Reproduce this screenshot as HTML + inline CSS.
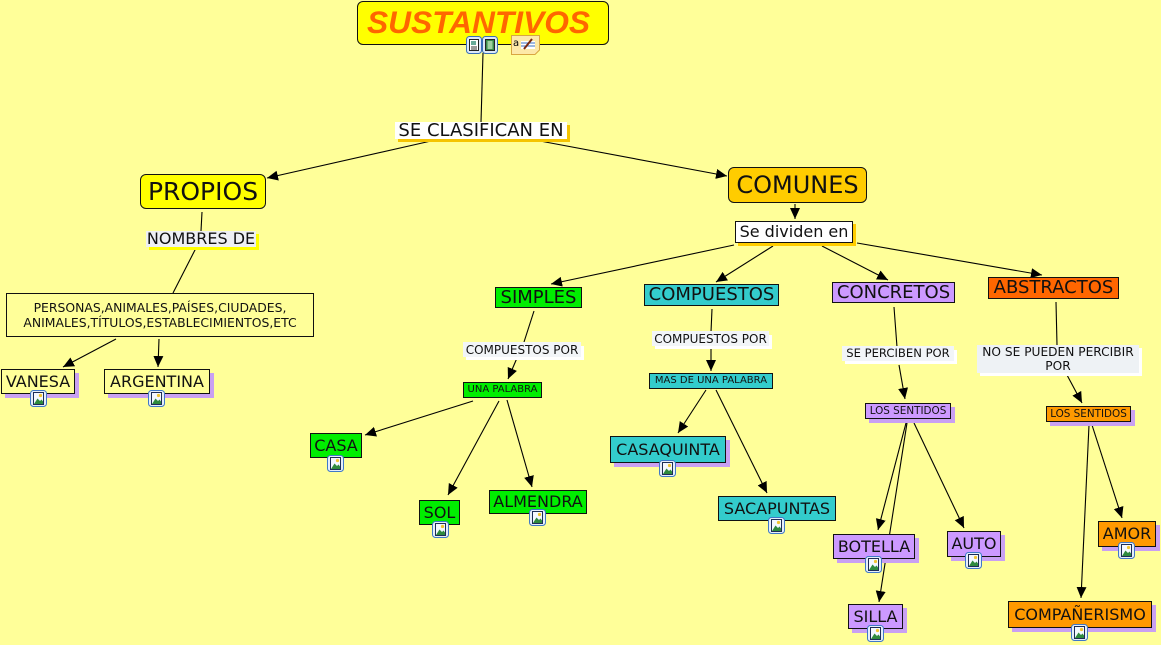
<!DOCTYPE html>
<html><head><meta charset="utf-8">
<style>
html,body{margin:0;padding:0;}
body{width:1161px;height:645px;background:#ffff99;position:relative;overflow:hidden;font-family:"DejaVu Sans","Liberation Sans",sans-serif;}
.n{position:absolute;box-sizing:border-box;border:1px solid #111;display:flex;align-items:center;justify-content:center;white-space:nowrap;line-height:1;color:#111;z-index:2;}
.l{position:absolute;box-sizing:border-box;display:flex;align-items:center;justify-content:center;white-space:nowrap;line-height:1;color:#111;z-index:2;text-align:center;}
.sh{box-shadow:4px 4px 0 #c9a0f2;}
.ic{position:absolute;width:17px;height:17px;z-index:3;}
svg.lines{position:absolute;left:0;top:0;z-index:1;}
</style></head><body>

<svg class="lines" width="1161" height="645" viewBox="0 0 1161 645">
<defs>
<marker id="a" markerUnits="userSpaceOnUse" markerWidth="12" markerHeight="11" refX="11" refY="5" orient="auto">
<path d="M0,0 L11,5 L0,10 z" fill="#000"/>
</marker>
</defs>
<g stroke="#000" stroke-width="1.1" fill="none">
<line x1="483" y1="53" x2="481" y2="122"/>
<line x1="431" y1="141" x2="267" y2="178" marker-end="url(#a)"/>
<line x1="540" y1="141" x2="727" y2="176" marker-end="url(#a)"/>
<line x1="202" y1="212" x2="201" y2="231"/>
<line x1="196" y1="248" x2="173" y2="293"/>
<line x1="116" y1="339" x2="63" y2="367" marker-end="url(#a)"/>
<line x1="159" y1="339" x2="158" y2="367" marker-end="url(#a)"/>
<line x1="795" y1="204" x2="795" y2="219" marker-end="url(#a)"/>
<line x1="734" y1="245" x2="551" y2="284" marker-end="url(#a)"/>
<line x1="773" y1="246" x2="716" y2="282" marker-end="url(#a)"/>
<line x1="822" y1="246" x2="888" y2="280" marker-end="url(#a)"/>
<line x1="857" y1="243" x2="1042" y2="275" marker-end="url(#a)"/>
<line x1="534" y1="311" x2="524" y2="342"/>
<line x1="517" y1="358" x2="508" y2="379" marker-end="url(#a)"/>
<line x1="473" y1="401" x2="365" y2="435" marker-end="url(#a)"/>
<line x1="499" y1="401" x2="448" y2="495" marker-end="url(#a)"/>
<line x1="507" y1="400" x2="532" y2="487" marker-end="url(#a)"/>
<line x1="712" y1="309" x2="711" y2="332"/>
<line x1="711" y1="348" x2="711" y2="371" marker-end="url(#a)"/>
<line x1="706" y1="390" x2="678" y2="433" marker-end="url(#a)"/>
<line x1="716" y1="390" x2="767" y2="493" marker-end="url(#a)"/>
<line x1="894" y1="307" x2="897" y2="347"/>
<line x1="899" y1="365" x2="905" y2="399" marker-end="url(#a)"/>
<line x1="906" y1="423" x2="878" y2="530" marker-end="url(#a)"/>
<line x1="907" y1="423" x2="879" y2="602" marker-end="url(#a)"/>
<line x1="914" y1="423" x2="964" y2="528" marker-end="url(#a)"/>
<line x1="1056" y1="302" x2="1057" y2="345"/>
<line x1="1067" y1="375" x2="1082" y2="403" marker-end="url(#a)"/>
<line x1="1089" y1="425" x2="1081" y2="598" marker-end="url(#a)"/>
<line x1="1092" y1="425" x2="1122" y2="518" marker-end="url(#a)"/>
</g>
</svg>

<!-- SUSTANTIVOS -->
<div class="n" style="left:357px;top:1px;width:252px;height:44px;background:#ffff00;border-radius:6px;justify-content:flex-start;padding-left:9px;">
<span style="font-family:'Liberation Sans',sans-serif;font-weight:bold;font-style:italic;font-size:31.7px;color:#ff6600;">SUSTANTIVOS</span></div>
<svg style="position:absolute;left:466px;top:35px;z-index:3" width="76" height="20" viewBox="0 0 76 20">
<rect x="0.5" y="1.5" width="15" height="17" rx="3" fill="#dce8f8" stroke="#3a6fb8"/>
<rect x="3.5" y="4.5" width="9" height="11" fill="#fff" stroke="#222"/>
<rect x="5" y="6" width="5" height="4" fill="#6a9"/>
<line x1="5" y1="12" x2="11" y2="12" stroke="#333"/>
<line x1="5" y1="14" x2="11" y2="14" stroke="#333"/>
<rect x="16.5" y="1.5" width="15" height="17" rx="3" fill="#dce8f8" stroke="#3a6fb8"/>
<rect x="19.5" y="4.5" width="9" height="11" fill="#3a8a4a" stroke="#222"/>
<rect x="21.5" y="6" width="5" height="8" fill="#9fd09f"/>
<path d="M45.5 0.5 H73.5 V15 L69 19.5 H45.5 Z" fill="#fde9a8" stroke="#d9a640"/>
<text x="47" y="11" font-family="DejaVu Sans" font-size="10" fill="#000">a</text>
<rect x="55" y="6" width="14" height="8" fill="#fff"/>
<line x1="55" y1="8" x2="69" y2="8" stroke="#3b6fc0"/>
<line x1="55" y1="11" x2="69" y2="11" stroke="#3b6fc0"/>
<line x1="58" y1="14" x2="66" y2="4" stroke="#7a2a10" stroke-width="2"/>
</svg>

<!-- SE CLASIFICAN EN -->
<div class="l" style="left:398px;top:125px;width:172px;height:17px;background:#f5c400;"></div>
<div class="l" style="left:395px;top:122px;width:172px;height:17px;background:#fff;font-size:18px;">SE CLASIFICAN EN</div>

<!-- PROPIOS -->
<div class="n" style="left:140px;top:174px;width:126px;height:35px;background:#ffff00;border-radius:6px;font-size:25px;">PROPIOS</div>
<div class="l" style="left:149px;top:234px;width:110px;height:16px;background:#ffff00;"></div>
<div class="l" style="left:146px;top:231px;width:110px;height:16px;background:#eef0f4;font-size:16px;">NOMBRES DE</div>
<div class="n" style="left:6px;top:293px;width:308px;height:44px;background:#ffff99;font-size:12.4px;flex-direction:column;line-height:15px;">
<div>PERSONAS,ANIMALES,PAÍSES,CIUDADES,</div><div>ANIMALES,TÍTULOS,ESTABLECIMIENTOS,ETC</div></div>
<div class="n sh" style="left:1px;top:369px;width:74px;height:25px;background:#ffff99;font-size:16px;">VANESA</div>
<div class="n sh" style="left:104px;top:369px;width:106px;height:25px;background:#ffff99;font-size:16px;">ARGENTINA</div>

<!-- COMUNES -->
<div class="n" style="left:728px;top:167px;width:139px;height:36px;background:#ffcc00;border-radius:6px;font-size:24px;">COMUNES</div>
<div class="l" style="left:738px;top:224px;width:118px;height:22px;background:#ffcc00;"></div>
<div class="n" style="left:735px;top:221px;width:118px;height:22px;background:#fff;font-size:16px;">Se dividen en</div>

<!-- SIMPLES branch -->
<div class="n" style="left:495px;top:287px;width:87px;height:21px;background:#00ee00;font-size:18px;">SIMPLES</div>
<div class="l" style="left:466px;top:346px;width:118px;height:14px;background:#fff;"></div>
<div class="l" style="left:463px;top:342px;width:118px;height:15px;background:#f2f5f8;font-size:12px;">COMPUESTOS POR</div>
<div class="n" style="left:463px;top:382px;width:79px;height:16px;background:#00ee00;font-size:10px;">UNA PALABRA</div>
<div class="n" style="left:310px;top:433px;width:52px;height:25px;background:#00ee00;font-size:16px;">CASA</div>
<div class="n" style="left:419px;top:500px;width:41px;height:25px;background:#00ee00;font-size:16px;">SOL</div>
<div class="n" style="left:489px;top:490px;width:98px;height:24px;background:#00ee00;font-size:16px;">ALMENDRA</div>

<!-- COMPUESTOS branch -->
<div class="n" style="left:644px;top:284px;width:135px;height:22px;background:#33cccc;font-size:18px;">COMPUESTOS</div>
<div class="l" style="left:655px;top:335px;width:117px;height:14px;background:#fff;"></div>
<div class="l" style="left:652px;top:331px;width:117px;height:15px;background:#f2f5f8;font-size:12px;">COMPUESTOS POR</div>
<div class="n" style="left:649px;top:373px;width:124px;height:16px;background:#33cccc;font-size:10px;">MAS DE UNA PALABRA</div>
<div class="n sh" style="left:610px;top:436px;width:116px;height:27px;background:#33cccc;font-size:16px;">CASAQUINTA</div>
<div class="n" style="left:718px;top:496px;width:118px;height:25px;background:#33cccc;font-size:16px;">SACAPUNTAS</div>

<!-- CONCRETOS branch -->
<div class="n" style="left:832px;top:282px;width:123px;height:21px;background:#cc99ff;font-size:18px;">CONCRETOS</div>
<div class="l" style="left:845px;top:350px;width:112px;height:14px;background:#fff;"></div>
<div class="l" style="left:842px;top:346px;width:112px;height:15px;background:#f2f5f8;font-size:11.6px;">SE PERCIBEN POR</div>
<div class="n sh" style="left:865px;top:403px;width:86px;height:16px;background:#cc99ff;font-size:10.4px;">LOS SENTIDOS</div>
<div class="n sh" style="left:833px;top:534px;width:82px;height:25px;background:#cc99ff;font-size:16px;">BOTELLA</div>
<div class="n sh" style="left:947px;top:531px;width:54px;height:26px;background:#cc99ff;font-size:16px;">AUTO</div>
<div class="n sh" style="left:848px;top:604px;width:55px;height:25px;background:#cc99ff;font-size:16px;">SILLA</div>

<!-- ABSTRACTOS branch -->
<div class="n" style="left:988px;top:277px;width:131px;height:22px;background:#ff6600;font-size:18px;">ABSTRACTOS</div>
<div class="l" style="left:980px;top:348px;width:162px;height:28px;background:#fff;"></div>
<div class="l" style="left:977px;top:345px;width:162px;height:28px;background:#eef2f5;font-size:12.2px;flex-direction:column;line-height:14px;"><div>NO SE PUEDEN PERCIBIR</div><div>POR</div></div>
<div class="n sh" style="left:1046px;top:406px;width:85px;height:16px;background:#ff9900;font-size:10.4px;">LOS SENTIDOS</div>
<div class="n sh" style="left:1098px;top:521px;width:58px;height:26px;background:#ff9900;font-size:16px;">AMOR</div>
<div class="n sh" style="left:1008px;top:601px;width:144px;height:27px;background:#ff9900;font-size:16px;">COMPAÑERISMO</div>

<!-- image icons -->
<svg width="0" height="0" style="position:absolute">
<defs>
<g id="pic">
<rect x="0.5" y="0.5" width="16" height="16" rx="3" fill="#e6eefa" stroke="#3f78c8"/>
<rect x="3.5" y="2.5" width="10" height="12" fill="#f4f8ff" stroke="#1d2d55"/>
<circle cx="10.5" cy="5.5" r="1.6" fill="#f2c531"/>
<path d="M4 14 L7.5 8.5 L10 11 L11.5 9.5 L13 11.5 L13 14 Z" fill="#2f8a3e"/>
</g>
</defs>
</svg>
<svg class="ic" style="left:30px;top:390px" viewBox="0 0 17 17"><use href="#pic"/></svg>
<svg class="ic" style="left:148px;top:390px" viewBox="0 0 17 17"><use href="#pic"/></svg>
<svg class="ic" style="left:327px;top:455px" viewBox="0 0 17 17"><use href="#pic"/></svg>
<svg class="ic" style="left:432px;top:521px" viewBox="0 0 17 17"><use href="#pic"/></svg>
<svg class="ic" style="left:529px;top:509px" viewBox="0 0 17 17"><use href="#pic"/></svg>
<svg class="ic" style="left:659px;top:460px" viewBox="0 0 17 17"><use href="#pic"/></svg>
<svg class="ic" style="left:768px;top:517px" viewBox="0 0 17 17"><use href="#pic"/></svg>
<svg class="ic" style="left:865px;top:556px" viewBox="0 0 17 17"><use href="#pic"/></svg>
<svg class="ic" style="left:965px;top:552px" viewBox="0 0 17 17"><use href="#pic"/></svg>
<svg class="ic" style="left:867px;top:625px" viewBox="0 0 17 17"><use href="#pic"/></svg>
<svg class="ic" style="left:1118px;top:542px" viewBox="0 0 17 17"><use href="#pic"/></svg>
<svg class="ic" style="left:1071px;top:624px" viewBox="0 0 17 17"><use href="#pic"/></svg>

</body></html>
